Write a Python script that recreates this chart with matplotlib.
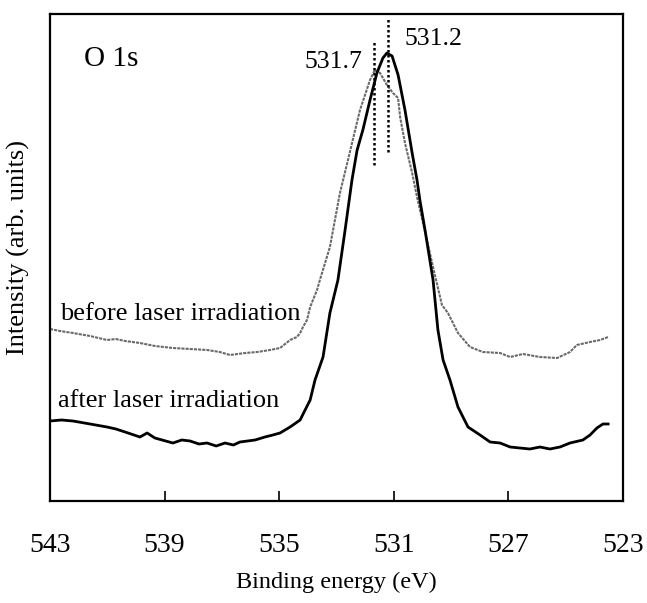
import matplotlib.pyplot as plt

plt.rcParams['font.family'] = ['Liberation Serif', 'DejaVu Serif']

# binding energy (eV) and intensity (arb. units)
after_ev = [543.00, 542.60, 542.20, 541.60, 541.01, 540.70, 540.38, 539.86, 539.61,
            539.34, 538.71, 538.40, 538.11, 537.80, 537.52, 537.20, 536.89, 536.60,
            536.37, 535.84, 535.50, 535.22, 534.97, 534.62, 534.27, 533.92, 533.75,
            533.47, 533.23, 532.95, 532.70, 532.46, 532.28, 532.08, 531.83, 531.59,
            531.38, 531.24, 531.06, 530.85, 530.61, 530.36, 530.19, 530.09, 529.91,
            529.63, 529.46, 529.28, 529.04, 528.76, 528.41, 527.99, 527.64, 527.29,
            526.94, 526.60, 526.25, 525.90, 525.55, 525.20, 524.85, 524.40, 524.15,
            523.91, 523.70, 523.52]
after_int = [80, 81, 80, 77, 74, 72, 69, 64, 68,
             63, 58, 61, 60, 57, 58, 55, 58, 56,
             59, 61, 64, 66, 68, 74, 81, 101, 121,
             144, 188, 221, 271, 321, 351, 371, 401, 428,
             443, 448, 445, 426, 391, 348, 321, 301, 271,
             221, 171, 141, 121, 94, 74, 66, 59, 58,
             54, 53, 52, 54, 52, 54, 58, 61, 66,
             73, 77, 77]

before_ev = [543.00, 542.65, 542.20, 541.60, 541.01, 540.70, 540.38, 539.86, 539.34,
             538.71, 538.11, 537.52, 537.07, 536.72, 536.19, 535.77, 535.32, 534.97,
             534.62, 534.38, 534.27, 534.17, 534.03, 533.92, 533.68, 533.58, 533.23,
             532.88, 532.60, 532.18, 531.83, 531.66, 531.48, 531.24, 531.03, 530.85,
             530.78, 530.61, 530.36, 530.19, 529.98, 529.63, 529.32, 529.11, 528.76,
             528.34, 527.89, 527.29, 526.94, 526.49, 525.90, 525.30, 524.85, 524.61,
             524.15, 523.80, 523.52]
before_int = [172, 170, 168, 165, 161, 162, 160, 158, 155,
              153, 152, 151, 149, 146, 148, 149, 151, 153,
              161, 164, 168, 174, 181, 194, 211, 221, 254,
              308, 341, 391, 421, 431, 428, 416, 408, 403,
              384, 358, 328, 304, 278, 234, 196, 188, 168,
              154, 149, 148, 144, 147, 144, 143, 149, 156,
              159, 161, 164]

peak_pos = [531.7, 531.2]
peak_text = ['531.7', '531.2']
xticks = [543, 539, 535, 531, 527, 523]

fig = plt.figure(figsize=(6.47, 6.03), dpi=100)
ax = fig.add_axes([50 / 647, 102 / 603, 573 / 647, 487 / 603])

ax.plot(before_ev, before_int, color='#6a6a6a', lw=1.5, linestyle=(0, (1.5, 0.5)))
ax.plot(after_ev, after_int, color='black', lw=2.0)

# peak markers
ax.plot([peak_pos[0]] * 2, [336, 461], color='black', lw=1.8, linestyle=(0, (1, 1)))
ax.plot([peak_pos[1]] * 2, [349, 483], color='black', lw=1.8, linestyle=(0, (1, 1)))
ax.text(533.12, 439, peak_text[0], fontsize=18.5, ha='center', va='center')
ax.text(529.60, 462, peak_text[1], fontsize=18.5, ha='center', va='center')

ax.text(540.87, 442, 'O 1s', fontsize=21, ha='center', va='center')
ax.text(542.65, 187, 'before laser irradiation', fontsize=19, ha='left', va='center')
ax.text(542.72, 100, 'after laser irradiation', fontsize=19, ha='left', va='center')

ax.set_xlim(543, 523)
ax.set_ylim(0, 487)
ax.set_xticks(xticks)
ax.set_xticklabels([str(t) for t in xticks])
ax.set_yticks([])
ax.tick_params(axis='x', direction='in', length=7, width=1.2, labelsize=20, pad=23,
               top=False)
for s in ax.spines.values():
    s.set_linewidth(1.6)

ax.set_xlabel('Binding energy (eV)', fontsize=17.5, va='top')
ax.xaxis.set_label_coords(0.5, -0.145)
ax.set_ylabel('Intensity (arb. units)', fontsize=19)
ax.yaxis.set_label_coords(-0.035, 0.52)

fig.savefig('out.png', dpi=100)
